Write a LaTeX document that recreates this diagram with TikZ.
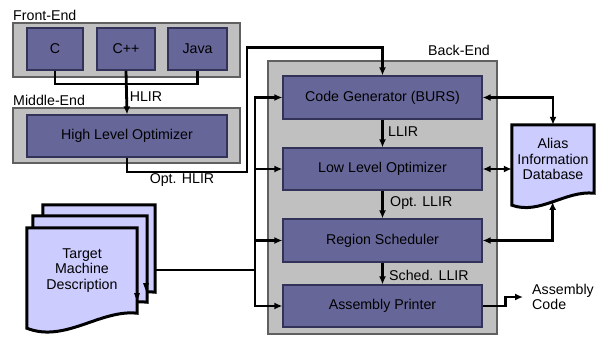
\documentclass[tikz,border=0pt]{standalone}
\usepackage{fontspec}
\setmainfont{Liberation Sans}
\usepackage{xcolor}
\definecolor{grisFase}{HTML}{C0C0C0}
\definecolor{bordeFase}{HTML}{606060}
\definecolor{moradoEtapa}{HTML}{666699}
\definecolor{bordeEtapa}{HTML}{33335A}
\definecolor{lilaDoc}{HTML}{CCCCFF}
\usetikzlibrary{arrows.meta,calc}
\pgfdeclarelayer{fondo}
\pgfsetlayers{fondo,main}

\tikzset{
  fase/.style={draw=bordeFase,fill=grisFase,line width=1.4pt,inner sep=0pt},
  etapa/.style={draw=bordeEtapa,fill=moradoEtapa,line width=1.2pt,inner sep=0pt,align=center},
  hoja/.style={draw=black,fill=lilaDoc,line width=3pt,line join=miter},
  conector/.style={line width=2.8pt},
  lbl/.style={inner sep=0pt}
}

\begin{document}
\begin{tikzpicture}[x=1pt,y=-1pt,font=\fontsize{14.2}{15.8}\selectfont,>={Latex[length=8pt,width=7pt]}]
\useasboundingbox (0,0) rectangle (596,337);

% Fases
\node[fase,minimum width=227pt,minimum height=54pt]  (fe) at (126.5,50) {};
\node[fase,minimum width=227pt,minimum height=55pt]  (me) at (126.5,135.5) {};
\node[fase,minimum width=229pt,minimum height=273pt] (be) at (382.5,197.5) {};

\node[lbl,anchor=west] (tfe) at (13,15)  {Front-End};
\node[lbl,anchor=west] (tme) at (13,100) {Middle-End};
\node[lbl,anchor=east] (tbe) at (490,50) {Back-End};

% Etapas
\node[etapa,minimum width=56pt,minimum height=42pt] (c)    at (55,49)    {C};
\node[etapa,minimum width=58pt,minimum height=42pt] (cpp)  at (126,49)   {C++};
\node[etapa,minimum width=59pt,minimum height=42pt] (java) at (197.5,49) {Java};

\node[etapa,minimum width=200pt,minimum height=42pt] (hlo) at (127,136) {High Level Optimizer};

\node[etapa,minimum width=199pt,minimum height=43pt] (cg)  at (382.5,97.5)  {Code Generator (BURS)};
\node[etapa,minimum width=199pt,minimum height=42pt] (llo) at (382.5,169)   {Low Level Optimizer};
\node[etapa,minimum width=199pt,minimum height=43pt] (rs)  at (382.5,240.5) {Region Scheduler};
\node[etapa,minimum width=199pt,minimum height=42pt] (ap)  at (382.5,306)   {Assembly Printer};

% Documentos
\node[lbl,minimum width=112pt,minimum height=87pt] (tmdb) at (99,248.5) {};
\node[lbl,minimum width=114pt,minimum height=86pt] (tmdm) at (90,259)   {};
\node[lbl,minimum width=110pt,minimum height=85pt,align=center] (tmd) at (82,270.5)
    {Target\\Machine\\Description};

\node[lbl,minimum width=82pt,minimum height=68pt,align=center] (aid) at (553,159)
    {Alias\\Information\\Database};

\begin{pgfonlayer}{fondo}
\draw[hoja] (tmdb.north west) -- (tmdb.north east) -- (tmdb.south east)
  .. controls ($(tmdb.south east)+(-37,-4)$) and ($(tmdb.south west)+(38,30)$) ..
  ($(tmdb.south west)+(0,15)$) -- cycle;
\draw[hoja] (tmdm.north west) -- (tmdm.north east) -- (tmdm.south east)
  .. controls ($(tmdm.south east)+(-37,-4)$) and ($(tmdm.south west)+(38,30)$) ..
  ($(tmdm.south west)+(0,15)$) -- cycle;
\draw[hoja] (tmd.north west) -- (tmd.north east) -- (tmd.south east)
  .. controls ($(tmd.south east)+(-37,-4)$) and ($(tmd.south west)+(38,30)$) ..
  ($(tmd.south west)+(0,15)$) -- cycle;

\draw[hoja] (aid.north west) -- (aid.north east) -- (aid.south east)
  .. controls ($(aid.south east)+(-29,-3)$) and ($(aid.south west)+(28,22)$) ..
  ($(aid.south west)+(0,12)$) coordinate[pos=0.5] (aidb) -- cycle;
\end{pgfonlayer}

% Puntas de las hojas
\fill (143,283) -- (149,283) -- (146,291) -- cycle;
\fill (134,293) -- (140,293) -- (137,301) -- cycle;

% Conectores
\coordinate (fejoin) at (126,84);
\draw[conector] (c.south) |- (fejoin) -| (java.south);
\draw[conector,->] (cpp.south) -- (hlo.north);
\node[lbl] (thlir) at (146,97) {HLIR};

\draw[conector,->] (hlo.south) |- (247,172) |- ([yshift=28pt]cg.north) -- (cg.north);
\node[lbl] (tohlir) at (182,180) {Opt. HLIR};

\draw[conector,->] (cg.south) -- (llo.north);
\node[lbl,anchor=west] (tllir) at (388,132) {LLIR};
\draw[conector,->] (llo.south) -- (rs.north);
\node[lbl,anchor=west] (tollir) at (390,203) {Opt. LLIR};
\draw[conector,->] (rs.south) -- (ap.north);
\node[lbl,anchor=west] (tsllir) at (389,275) {Sched. LLIR};

\coordinate (bus) at (255,270);
\draw[conector] (tmdb.east |- bus) -- (bus);
\draw[conector,->] (bus) |- (cg.west);
\draw[conector,->] (bus) |- (llo.west);
\draw[conector,->] (bus) |- (rs.west);
\draw[conector,->] (bus) |- (ap.west);

\draw[conector,<->] (cg.east) -| (aid.north);
\draw[conector,<->] (llo.east) -- (llo.east -| aid.west);
\draw[conector,<->] (rs.east) -| (aidb);

\node[inner xsep=9pt,inner ysep=0pt,align=left,anchor=west] (asm) at (523,297) {Assembly\\Code};
\draw[conector,->] (ap.east) -- ++(23,0) |- (asm.west);

\end{tikzpicture}
\end{document}
